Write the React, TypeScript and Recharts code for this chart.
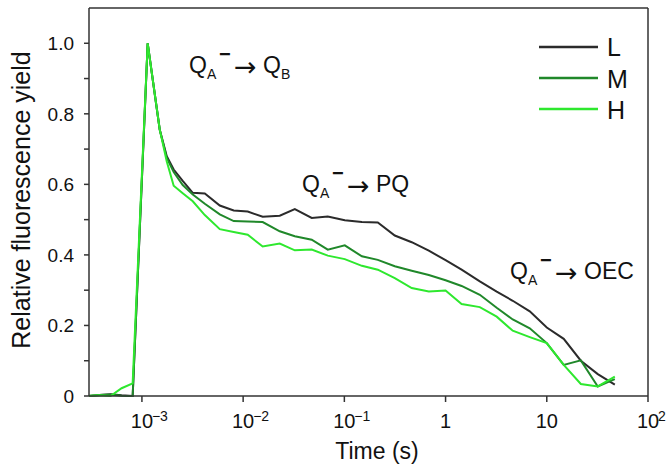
import React from "react";
import { LineChart, Line, XAxis, YAxis, ReferenceLine } from "recharts";

const FONT = '"Liberation Sans", Arial, Helvetica, sans-serif';

// time points (s)
const times = [
  0.0003, 0.00038, 0.00049, 0.00063, 0.00081, 0.00114, 0.0015, 0.00176, 0.00206,
  0.00253, 0.00318, 0.00418, 0.00588, 0.00807, 0.0111, 0.0156, 0.023, 0.0324,
  0.0476, 0.0686, 0.101, 0.149, 0.214, 0.315, 0.463, 0.683, 1.0, 1.44, 2.18, 3.2,
  4.61, 6.79, 10, 14.7, 21.7, 31.9, 47,
];

const seriesL = [
  0, 0.003, 0.005, 0.002, 0, 1.0, 0.755, 0.68, 0.642, 0.61, 0.576, 0.574, 0.54,
  0.526, 0.523, 0.508, 0.511, 0.53, 0.505, 0.509, 0.498, 0.493, 0.492, 0.455,
  0.436, 0.412, 0.385, 0.358, 0.325, 0.296, 0.27, 0.24, 0.194, 0.162, 0.1, 0.062,
  0.032,
];

const seriesM = [
  0, 0.003, 0.004, 0.001, 0, 1.0, 0.755, 0.675, 0.635, 0.598, 0.571, 0.545, 0.515,
  0.496, 0.495, 0.493, 0.467, 0.453, 0.443, 0.415, 0.427, 0.396, 0.386, 0.368,
  0.355, 0.343, 0.328, 0.312, 0.287, 0.25, 0.217, 0.192, 0.15, 0.088, 0.101, 0.027,
  0.048,
];

const seriesH = [
  0.001, 0.002, 0, 0.022, 0.036, 1.0, 0.755, 0.665, 0.596, 0.575, 0.552, 0.513,
  0.473, 0.465, 0.457, 0.424, 0.432, 0.413, 0.415, 0.398, 0.388, 0.369, 0.358,
  0.334, 0.306, 0.296, 0.299, 0.261, 0.252, 0.225, 0.185, 0.167, 0.15, 0.088,
  0.034, 0.027, 0.055,
];

const xTicks = [0.001, 0.01, 0.1, 1, 10, 100];
const xTickExp: Record<string, string> = {
  "0.001": "−3",
  "0.01": "−2",
  "0.1": "−1",
  "1": "",
  "10": "",
  "100": "2",
};
const yTicks = [0, 0.1, 0.2, 0.3, 0.4, 0.5, 0.6, 0.7, 0.8, 0.9, 1.0];

const legendItems = [
  { name: "L", color: "#2b2b2b" },
  { name: "M", color: "#20882a" },
  { name: "H", color: "#2ee82e" },
];

const AXIS = "#333";

const data = times.map((t, i) => ({
  t,
  L: seriesL[i],
  M: seriesM[i],
  H: seriesH[i],
}));

function XTick(props: any) {
  const { x, y, payload } = props;
  const v = payload.value;
  const exp = xTickExp[String(v)];
  const base = v === 1 ? "1" : "10";
  return (
    <g fontFamily={FONT} fill="#111">
      <text x={x} y={y + 24} fontSize={20} textAnchor="middle">
        {base}
      </text>
      {exp ? (
        <text x={x + 10} y={y + 17} fontSize={14}>
          {exp}
        </text>
      ) : null}
    </g>
  );
}

function YTick(props: any) {
  const { x, y, payload } = props;
  const v = payload.value;
  const k = Math.round(v * 10);
  if (k % 2 !== 0) return null;
  const label = k === 0 ? "0" : v.toFixed(1);
  return (
    <text x={x - 8} y={y + 7} fontSize={19} textAnchor="end" fontFamily={FONT} fill="#111">
      {label}
    </text>
  );
}

function Transfer({ x, y, to, toSub }: { x: number; y: number; to: string; toSub?: string }) {
  return (
    <g fontFamily={FONT} fill="#111">
      <text x={x} y={y} fontSize={23}>Q</text>
      <text x={x + 18} y={y + 6} fontSize={14}>A</text>
      <text x={x + 30} y={y - 12} fontSize={20} fontWeight="bold">−</text>
      <text x={x + 45} y={y + 3} fontSize={27} fontFamily='"DejaVu Sans", sans-serif'>→</text>
      <text x={x + 74} y={y} fontSize={23}>{to}</text>
      {toSub ? (
        <text x={x + 92} y={y + 6} fontSize={14}>{toSub}</text>
      ) : null}
    </g>
  );
}

export default function App() {
  return (
    <div style={{ position: "absolute", left: 0, top: 0, width: 667, height: 468, background: "#fff" }}>
      <LineChart
        width={667}
        height={468}
        data={data}
        margin={{ top: 8, right: 19, bottom: 0, left: 0 }}
      >
        <XAxis
          dataKey="t"
          type="number"
          scale="log"
          domain={[0.0003, 100]}
          allowDataOverflow
          ticks={xTicks}
          tick={<XTick />}
          tickSize={6}
          height={72}
          axisLine={{ stroke: AXIS, strokeWidth: 1.5 }}
          tickLine={{ stroke: AXIS, strokeWidth: 1.5 }}
        />
        <YAxis
          type="number"
          domain={[0, 1.1]}
          ticks={yTicks}
          interval={0}
          tick={<YTick />}
          tickSize={5}
          width={89}
          axisLine={{ stroke: AXIS, strokeWidth: 1.5 }}
          tickLine={{ stroke: AXIS, strokeWidth: 1.5 }}
        />
        <ReferenceLine y={1.1} stroke={AXIS} strokeWidth={1.5} />
        <ReferenceLine x={100} stroke={AXIS} strokeWidth={1.5} />
        <Line type="linear" dataKey="L" stroke={legendItems[0].color} strokeWidth={2} dot={false} isAnimationActive={false} />
        <Line type="linear" dataKey="M" stroke={legendItems[1].color} strokeWidth={2} dot={false} isAnimationActive={false} />
        <Line type="linear" dataKey="H" stroke={legendItems[2].color} strokeWidth={2} dot={false} isAnimationActive={false} />
      </LineChart>
      <svg
        width={667}
        height={468}
        style={{ position: "absolute", left: 0, top: 0, pointerEvents: "none" }}
      >
        <text
          transform="translate(30,200) rotate(-90)"
          textAnchor="middle"
          fontSize={25}
          fontFamily={FONT}
          fill="#111"
        >
          Relative fluorescence yield
        </text>
        <text x={377} y={459} textAnchor="middle" fontSize={23} fontFamily={FONT} fill="#111">
          Time (s)
        </text>

        {legendItems.map((it, i) => (
          <g key={it.name}>
            <line x1={539} x2={598} y1={47 + i * 31} y2={47 + i * 31} stroke={it.color} strokeWidth={2.5} />
            <text x={607} y={56 + i * 31.5} fontSize={25} fontFamily={FONT} fill="#111">
              {it.name}
            </text>
          </g>
        ))}

        <Transfer x={189} y={73} to="Q" toSub="B" />
        <Transfer x={302} y={192} to="PQ" />
        <Transfer x={510} y={279} to="OEC" />
      </svg>
    </div>
  );
}
